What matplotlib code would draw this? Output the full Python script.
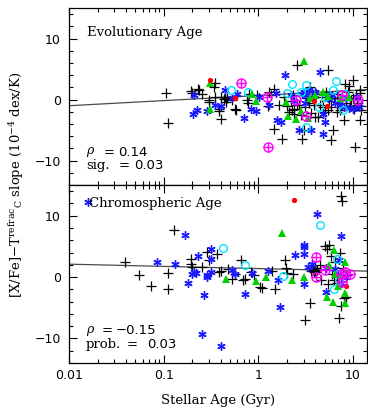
import matplotlib
matplotlib.use('Agg')
import matplotlib.pyplot as plt
import numpy as np
from matplotlib.ticker import MultipleLocator, FixedLocator, FuncFormatter

# ---- data: (age in Gyr, slope) ----
# Evolutionary age panel
evo_plus_x = [0.105, 0.111, 0.192, 0.197, 0.232, 0.236, 0.255, 0.30, 0.30, 0.34, 0.345, 0.35, 0.384, 0.38, 0.40,
              0.40, 0.43, 0.44, 0.45, 0.47, 0.53, 0.57, 0.585, 0.765, 0.78, 0.80, 0.976, 1.25, 1.3, 1.37, 1.47,
              1.48, 1.66, 1.79, 1.85, 2.0, 2.1, 2.2, 2.29, 2.37, 2.3, 2.4, 2.58, 2.58, 2.7, 2.8, 2.92, 3.04, 3.1,
              3.2, 3.4, 3.55, 3.6, 3.8, 3.88, 4.0, 4.1, 4.3, 4.5, 4.7, 4.76, 5.0, 5.2, 5.5, 5.5, 5.6, 5.8, 5.9,
              6.07, 6.3, 6.8, 6.8, 7.0, 7.3, 7.6, 8.07, 8.3, 8.5, 8.8, 9.1, 9.2, 9.5, 9.9, 9.9, 10.2, 10.5,
              10.8, 11.0, 11.2, 11.7, 11.7, 11.8, 12.0, 12.2]
evo_plus_y = [1.1, -3.8, 1.4, 1.1, 1.7, 1.5, 1.0, -0.4, -0.1, 2.1, 2.7, 0.4, -1.8, -1.5, -3.1,
              0.5, 0.1, 0.5, -0.4, 0.2, 0.0, -1.6, -1.75, -0.1, -0.6, 0.9, 0.7, -1.1, 1.3, 0.8, -4.8,
              1.7, -0.9, -6.4, 0.5, -1.0, -2.0, -0.3, -1.75, -2.3, 0.8, -1.5, 5.7, -0.9, -0.8, -2.5, -6.4, -5.0, -1.2,
              0.3, -0.5, 2.1, -2.2, 0.6, -0.9, -2.85, 1.0, -2.85, -0.8, 0.5, -1.2, -2.0, 1.2, 4.8, -1.75, -0.3, -6.7, -1.2,
              -5.0, 0.3, 1.0, -2.0, -0.5, -1.7, 0.5, -3.4, 2.6, -0.5, 1.2, 2.3, -1.0, 0.0, 3.2, 0.2, -1.5, -7.8,
              0.8, -0.9, -0.5, -3.4, 1.1, 1.5, -1.75, -1.0]
evo_star_x = [0.204, 0.226, 0.21, 0.288, 0.35, 0.40, 0.44, 0.53, 0.60, 0.705, 0.84, 0.95, 1.02, 1.28, 1.55,
              1.59, 1.74, 1.92, 2.2, 2.4, 2.7, 2.9, 3.0, 3.1, 3.2, 3.4, 3.57, 3.7, 4.0, 4.5, 4.76, 5.0, 4.84,
              5.5, 6.0, 6.5, 7.2, 8.0, 8.5, 9.0, 10.0, 11.0, 11.5]
evo_star_y = [-2.4, -1.75, 0.8, -1.9, -0.9, -1.0, 1.5, 0.3, 1.0, -3.0, -1.5, -1.9, 0.4, -0.9, 1.1,
              -3.3, -3.7, 4.0, 0.8, -0.3, -4.9, 1.0, 1.3, -0.5, 0.8, 1.5, -4.9, 0.5, 1.2, 4.5, -2.3, -3.6, -5.6,
              0.3, 0.8, -0.5, -0.9, -1.2, 0.3, -1.3, -1.6, 0.5, -1.2]
evo_cyan_x = [0.518, 0.78, 2.03, 2.29, 3.22, 2.8, 3.17, 4.4, 6.2, 6.6, 7.75, 8.3, 5.0]
evo_cyan_y = [1.5, 1.25, 1.1, 2.6, 2.45, 1.2, -4.5, -1.2, 1.5, 3.0, -1.75, 0.9, 0.5]
evo_red_x = [0.31, 0.566, 3.88, 5.25]
evo_red_y = [3.3, 0.3, -0.3, -1.05]
evo_tri_x = [0.305, 0.305, 0.864, 0.95, 1.95, 2.08, 2.52, 2.8, 3.04, 3.38, 3.5, 4.0, 4.8, 5.5, 7.5, 9.0]
evo_tri_y = [2.7, -1.6, 0.9, -0.3, -0.4, -2.7, -3.1, -1.9, 6.4, -3.0, 0.3, 0.8, 1.2, 0.6, 0.2, 0.5]
evo_mag_x = [0.656, 1.22, 1.25, 2.48, 3.17, 7.6, 11.3]
evo_mag_y = [2.7, 0.4, -7.8, 0.0, -2.7, 0.8, -0.1]

# Chromospheric age panel
chr_plus_x = [0.039, 0.055, 0.073, 0.111, 0.111, 0.130, 0.195, 0.195, 0.197, 0.255, 0.288, 0.30, 0.37, 0.385,
              0.40, 0.48, 0.53, 0.56, 0.66, 0.69, 0.72, 0.84, 0.9, 1.05, 1.08, 1.4, 1.51, 1.92, 1.95, 2.0, 2.3,
              3.1, 3.55, 3.6, 3.8, 3.9, 4.0, 4.0, 4.1, 4.2, 4.5, 4.6, 5.0, 5.3, 5.5, 5.6, 5.8, 6.0, 6.3, 6.5,
              6.8, 7.1, 7.4, 7.5, 7.6, 7.2, 7.8, 8.0, 8.4, 8.6]
chr_plus_y = [2.4, 0.4, -1.4, 0.6, -1.9, 7.7, 3.0, 2.1, 1.6, 1.6, 4.1, 2.8, 3.8, 0.9,
              1.0, 1.3, -0.3, 0.5, 2.7, -0.4, -0.3, 0.8, 0.3, -1.6, -1.8, 1.0, -1.9, 2.75, 1.4, 0.7, 0.5,
              -7.0, -4.3, 1.0, 1.2, 0.8, 1.5, 1.0, 0.9, 1.1, 2.0, -0.5, 5.0, 4.5, -1.2, 5.3, 3.5, 0.5, -0.5, 2.5,
              -1.0, -6.6, -4.7, 13.2, 12.4, 4.0, 1.5, -3.4, -3.3, 0.3]
chr_star_x = [0.0159, 0.085, 0.133, 0.167, 0.182, 0.197, 0.217, 0.21, 0.232, 0.251, 0.266, 0.29, 0.29, 0.313,
              0.318, 0.318, 0.40, 0.53, 0.56, 0.72, 0.86, 1.25, 1.63, 1.69, 2.44, 3.04, 3.04, 3.04, 3.04, 3.38,
              3.7, 4.14, 5.17, 7.4, 7.0, 7.5, 6.5, 8.4, 5.2, 7.1]
chr_star_y = [12.2, 2.5, 2.1, 6.8, -0.9, 0.45, 0.6, 0.9, 3.4, -9.3, -2.9, 0.0, 0.4, 0.8,
              4.5, 3.0, -11.2, 1.1, 0.5, -2.7, 0.6, 1.0, -0.5, -4.9, 3.6, 5.3, 4.9, 3.7, -1.2, 1.65,
              2.2, 10.3, -2.5, 6.7, 0.5, -1.0, 1.3, 0.0, 1.5, 2.8]
chr_cyan_x = [0.42, 0.72, 1.84, 4.5, 6.7, 6.3, 7.1, 6.9]
chr_cyan_y = [4.8, 2.0, 0.2, 8.5, 2.9, -1.9, -0.5, 0.5]
chr_red_x = [2.39, 8.4]
chr_red_y = [12.6, -1.4]
chr_tri_x = [0.45, 0.95, 1.2, 1.79, 2.29, 3.04, 5.37, 6.1, 5.6, 6.3, 8.2, 8.2, 8.3, 6.5, 7.0, 7.5]
chr_tri_y = [-0.3, -0.7, 0.0, 7.1, -0.4, 0.0, -3.2, -4.1, 1.9, 4.4, -2.6, -4.3, 2.5, 0.5, -1.5, 0.3]
chr_mag_x = [4.05, 4.1, 5.08, 7.4, 8.3, 9.2, 7.6]
chr_mag_y = [3.3, 0.0, 1.2, 0.5, 0.8, 0.5, -0.8]

# linear fits against log(age): value at 0.01 Gyr and slope per dex
evo_fit = (-1.0, 0.84)
chr_fit = (2.1, -0.36)

plt.rcParams['font.family'] = 'DejaVu Sans'
plt.rcParams['mathtext.fontset'] = 'dejavuserif'
serif = 'DejaVu Serif'

fig = plt.figure(figsize=(3.68, 4.09), dpi=100)
ax1 = fig.add_axes([0.1875, 0.5477, 0.8095, 0.4323])
ax2 = fig.add_axes([0.1875, 0.1125, 0.8095, 0.4352])


def draw(ax, px, py, sx, sy, cx, cy, rx, ry, tx, ty, mx, my, fit):
    ax.plot(px, py, '+', color='black', ms=7, mew=0.9, ls='none')
    ax.plot(sx, sy, marker=(6, 2, 0), color='#1a1aff', ms=6, mew=1.0, ls='none')
    ax.plot(cx, cy, 'o', mfc='none', mec='#00e5ff', ms=5.5, mew=1.0, ls='none')
    ax.plot(tx, ty, '^', color='#00d000', ms=5.5, mew=0, ls='none')
    ax.plot(rx, ry, 'o', color='#ff0000', ms=3.8, mew=0, ls='none')
    ax.plot(mx, my, 'o', mfc='none', mec='#ff00ff', ms=6.5, mew=1.0, ls='none')
    ax.plot(mx, my, '+', color='#ff00ff', ms=6.5, mew=1.0, ls='none')
    xl = np.logspace(-2, np.log10(14), 50)
    ax.plot(xl, fit[0] + fit[1] * (np.log10(xl) + 2), color='#4a4a4a', lw=0.9, zorder=0)
    ax.set_xscale('log')
    ax.set_xlim(0.01, 14)
    ax.set_ylim(-14, 15)
    ax.yaxis.set_major_locator(MultipleLocator(10))
    ax.yaxis.set_minor_locator(MultipleLocator(2))
    ax.xaxis.set_major_locator(FixedLocator([0.01, 0.1, 1, 10]))
    ax.xaxis.set_major_formatter(FuncFormatter(lambda v, p: '%g' % v))
    ax.tick_params(which='both', direction='in', top=True, right=True, width=0.8)
    ax.tick_params(which='major', length=6, labelsize=9, pad=6)
    ax.tick_params(which='minor', length=3)
    for s in ax.spines.values():
        s.set_linewidth(0.9)


draw(ax1, evo_plus_x, evo_plus_y, evo_star_x, evo_star_y, evo_cyan_x, evo_cyan_y,
     evo_red_x, evo_red_y, evo_tri_x, evo_tri_y, evo_mag_x, evo_mag_y, evo_fit)
draw(ax2, chr_plus_x, chr_plus_y, chr_star_x, chr_star_y, chr_cyan_x, chr_cyan_y,
     chr_red_x, chr_red_y, chr_tri_x, chr_tri_y, chr_mag_x, chr_mag_y, chr_fit)
ax1.tick_params(labelbottom=False)
ax2.tick_params(axis='x', pad=4)

fs = 9.5
nfs = 9.5


def label(ax, x, y, s, fam=serif, size=fs):
    ax.text(x, y, s, transform=ax.transAxes, family=fam, fontsize=size, va='center')


label(ax1, 0.06, 0.86, 'Evolutionary Age')
label(ax1, 0.057, 0.184, r'$\rho$', size=9)
label(ax1, 0.115, 0.184, '=', 'DejaVu Sans', nfs)
label(ax1, 0.165, 0.184, '0.14', 'DejaVu Sans', nfs)
label(ax1, 0.057, 0.108, 'sig.')
label(ax1, 0.168, 0.108, '=', 'DejaVu Sans', nfs)
label(ax1, 0.218, 0.108, '0.03', 'DejaVu Sans', nfs)

label(ax2, 0.067, 0.897, 'Chromospheric Age')
label(ax2, 0.057, 0.18, r'$\rho$', size=9)
label(ax2, 0.11, 0.18, '=', 'DejaVu Sans', nfs)
label(ax2, 0.155, 0.18, '\u22120.15', 'DejaVu Sans', nfs)
label(ax2, 0.057, 0.102, 'prob.')
label(ax2, 0.195, 0.102, '=', 'DejaVu Sans', nfs)
label(ax2, 0.262, 0.102, '0.03', 'DejaVu Sans', nfs)

ax2.set_xlabel('Stellar Age (Gyr)', family=serif, fontsize=fs, labelpad=9)
fig.text(0.046, 0.5477, r'[X/Fe]$-$T$^{\rm refrac}{}_{\rm C}$ slope (10$^{-4}$ dex/K)',
         rotation=90, ha='center', va='center', family=serif, fontsize=fs)

fig.savefig('out.png', dpi=100)
